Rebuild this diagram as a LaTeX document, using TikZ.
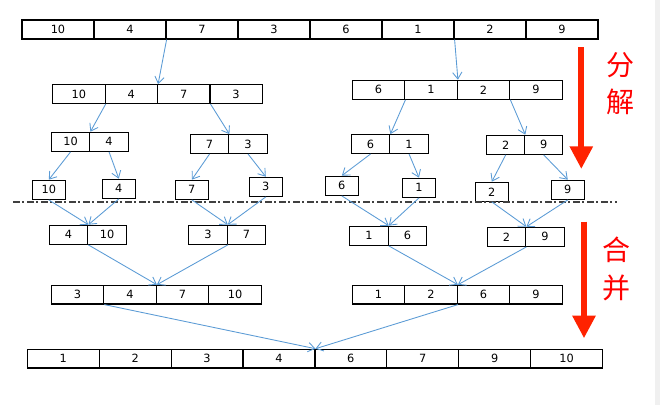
\documentclass[tikz,border=0pt]{standalone}
\usepackage{fontspec}
\setmainfont{DejaVu Sans}
\newfontfamily\cjk{Noto Sans CJK SC}
\usepackage{tikz}
\usetikzlibrary{arrows.meta}
\definecolor{linkblue}{HTML}{5B9BD5}
\definecolor{flowred}{HTML}{FF2200}
\definecolor{labelred}{HTML}{FF0000}
\definecolor{cutgray}{HTML}{404040}
\tikzset{
  cell/.style={draw=black, line width=0.9pt, inner sep=0pt, font=\fontsize{8.5}{10}\selectfont},
  single/.style={cell, minimum width=24.75pt, minimum height=14.25pt},
  link/.style={draw=linkblue, line width=0.65pt, -{Straight Barb[length=5pt,width=7pt]}},
  flow/.style={draw=flowred, line width=4.5pt, -{Triangle[length=17pt,width=16.5pt]}},
  phase/.style={text=labelred, font=\cjk\fontsize{21}{21}\selectfont, inner sep=0pt},
  cutline/.style={draw=cutgray, line width=0.8pt, dash pattern=on 5pt off 2pt on 1.5pt off 2pt}
}
\newcommand{\cellrow}[6]{%
  \foreach \v [count=\i] in {#6}
    \node[cell, minimum width=#4*0.75pt, minimum height=#5*0.75pt] (#1\i) at ({#2+(\i-0.5)*#4},{#3+#5/2}) {\v};}

\begin{document}
\begin{tikzpicture}[x=0.75pt, y=-0.75pt]
        \useasboundingbox (0,0) rectangle (660,405);
        \fill[black!6] (655,0) rectangle (660,405);
        % split
        \cellrow{t}{22}{20}{72}{19}{10,4,7,3,6,1,2,9}
        \cellrow{la}{52.7}{84.7}{52.4}{18.7}{10,4,7,3}
        \cellrow{rb}{352.3}{80.3}{52.5}{19}{6,1,2,9}
        \cellrow{lla}{51.3}{132.3}{38.5}{19}{10,4}
        \cellrow{llb}{190.3}{134.7}{38.5}{18.7}{7,3}
        \cellrow{rra}{351.3}{134.7}{38.5}{18.7}{6,1}
        \cellrow{rrb}{486.7}{135.3}{38}{19}{2,9}
        \node[single] (s1) at (48.8,189.8) {10};
        \node[single] (s2) at (118.8,188.8) {4};
        \node[single] (s3) at (191.8,189.8) {7};
        \node[single] (s4) at (265.8,186.8) {3};
        \node[single] (s5) at (341.8,185.8) {6};
        \node[single] (s6) at (419.0,187.8) {1};
        \node[single] (s7) at (491.8,191.8) {2};
        \node[single] (s8) at (567.8,189.8) {9};
        \draw[cutline] (13,202) -- (617,202);
        % merge
        \cellrow{ma}{49.3}{225.3}{38.5}{19}{4,10}
        \cellrow{mb}{188.7}{225.3}{38.5}{19}{3,7}
        \cellrow{mc}{349.7}{226.3}{38.5}{19}{1,6}
        \cellrow{md}{487.3}{227.3}{38.5}{19}{2,9}
        \cellrow{ga}{51.3}{285.3}{52.5}{18.7}{3,4,7,10}
        \cellrow{gb}{352.3}{285.3}{52.5}{18.7}{1,2,6,9}
        \cellrow{f}{27.3}{349.3}{71.9}{18.7}{1,2,3,4,6,7,9,10}
        % links
        \draw[link] (t2.south east) -- (la2.north east);
        \draw[link] (t6.south east) -- (rb2.north east);
        \draw[link] (la1.south east) -- (lla1.north east);
        \draw[link] (la3.south east) -- (llb1.north east);
        \draw[link] (rb1.south east) -- (rra1.north east);
        \draw[link] (rb3.south east) -- (rrb1.north east);
        \draw[link] (lla1.south) -- (s1.north);
        \draw[link] (lla2.south) -- (s2.north);
        \draw[link] (llb1.south) -- (s3.north);
        \draw[link] (llb2.south) -- (s4.north);
        \draw[link] (rra1.south) -- (s5.north);
        \draw[link] (rra2.south) -- (s6.north);
        \draw[link] (rrb1.south) -- (s7.north);
        \draw[link] (rrb2.south) -- (s8.north);
        \draw[link] (s1.south) -- (ma1.north east);
        \draw[link] (s2.south) -- (ma1.north east);
        \draw[link] (s3.south) -- (mb1.north east);
        \draw[link] (s4.south) -- (mb1.north east);
        \draw[link] (s5.south) -- (mc1.north east);
        \draw[link] (s6.south) -- (mc1.north east);
        \draw[link] (s7.south) -- (md1.north east);
        \draw[link] (s8.south) -- (md1.north east);
        \draw[link] (ma1.south east) -- (ga2.north east);
        \draw[link] (mb1.south east) -- (ga2.north east);
        \draw[link] (mc1.south east) -- (gb2.north east);
        \draw[link] (md1.south east) -- (gb2.north east);
        \draw[link] (ga1.south east) -- (f4.north east);
        \draw[link] (gb2.south east) -- (f4.north east);
        % phases
        \coordinate (splittop) at (581.3,47.3);
        \coordinate (splitend) at (581.3,169);
        \coordinate (mergetop) at (584,221.7);
        \coordinate (mergeend) at (584,338.3);
        \draw[flow] (splittop) -- (splitend);
        \draw[flow] (mergetop) -- (mergeend);
        \node[phase] (fen) at (620,65) {分};
        \node[phase] (jie) at (620,101.7) {解};
        \node[phase] (he) at (616,250) {合};
        \node[phase] (bing) at (616,288) {并};
    \end{tikzpicture}
\end{document}
